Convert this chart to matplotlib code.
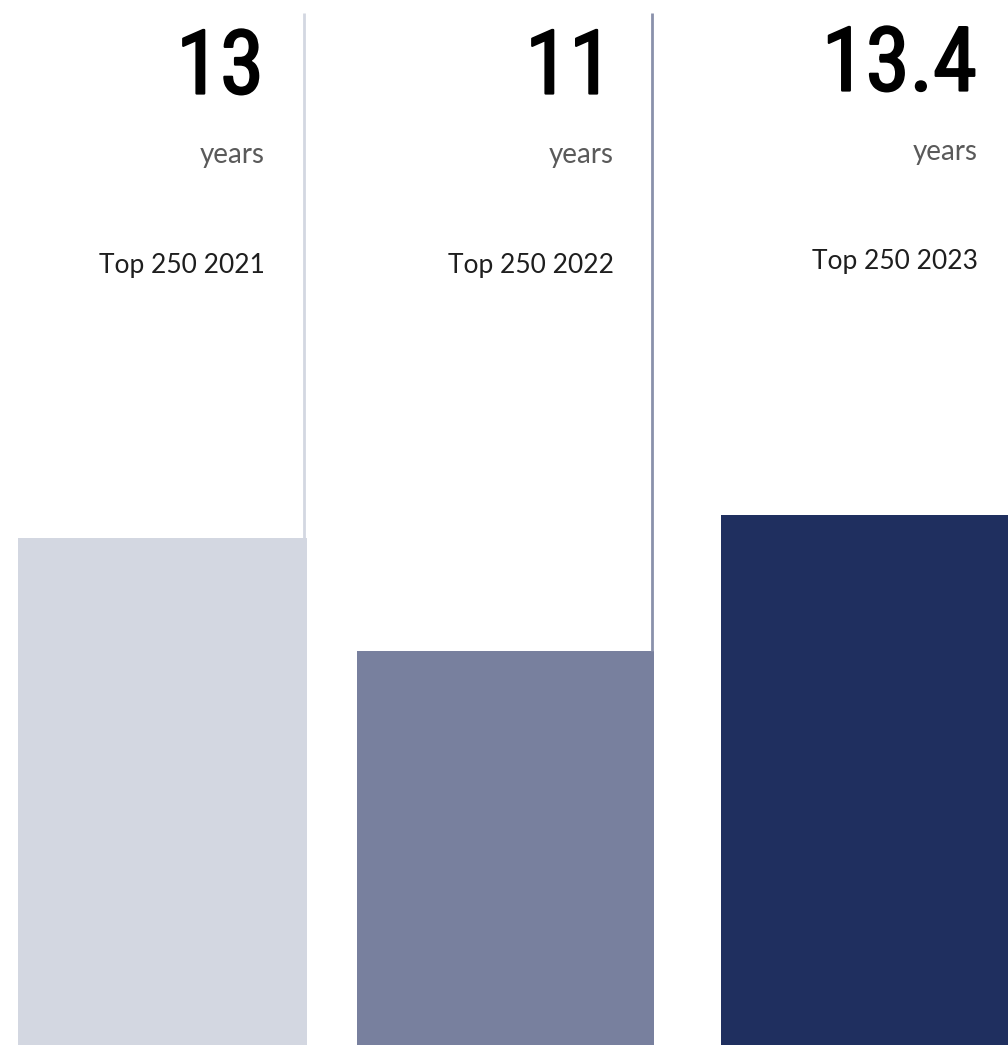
import matplotlib.pyplot as plt
import matplotlib.patheffects as pe

years_values = [13, 11, 13.4]
value_labels = ['13', '11', '13.4']
unit_labels = ['years', 'years', 'years']
group_labels = ['Top 250 2021', 'Top 250 2022', 'Top 250 2023']
bar_colors = ['#d3d7e1', '#78809e', '#1f2f5f']

W, H = 1008, 1045
fig = plt.figure(figsize=(W / 100, H / 100), dpi=100)

# axes runs past the bottom edge so the baseline is hidden
px_per_unit = 56.7
base_px = 1275
ax = fig.add_axes([0, (H - base_px) / H, 1, base_px / H])
ax.set_xlim(0, W)
ax.set_ylim(0, base_px / px_per_unit)
ax.axis('off')

lefts = [18, 357, 721]
widths = [289, 297, 287]
ax.bar(lefts, years_values, width=widths, align='edge', color=bar_colors, linewidth=0)

# divider lines running from the top down to each bar
top_val = (base_px - 13) / px_per_unit
ax.vlines(304, years_values[0], top_val, color='#d3d7e1', lw=2)
ax.vlines(652, years_values[1], top_val, color='#8a91ab', lw=2)

big_font = ['Roboto Condensed', 'DejaVu Sans Condensed', 'Liberation Sans Narrow', 'Liberation Sans']
# regular weight, thickened a little with a stroke
thicken = [pe.withStroke(linewidth=1.6, foreground='#000000')]
right_edges = [264, 613, 977]
shift = [0, 0, -3]
for i in range(3):
    x = right_edges[i] / W
    fig.text(x, 1 - (69 + shift[i]) / H, value_labels[i], ha='right', va='center',
             fontsize=64, family=big_font, fontstretch='condensed',
             color='#000000', path_effects=thicken)
    fig.text((right_edges[i] + 1) / W, 1 - (155 + shift[i]) / H, unit_labels[i],
             ha='right', va='center',
             fontsize=20, family=['Lato', 'DejaVu Sans'], color='#5a5a5a')
    fig.text((right_edges[i] + 1) / W, 1 - (265 + shift[i]) / H, group_labels[i],
             ha='right', va='center',
             fontsize=19, family=['Lato', 'DejaVu Sans'], color='#1e1e1e')

fig.savefig('out.png', dpi=100)
